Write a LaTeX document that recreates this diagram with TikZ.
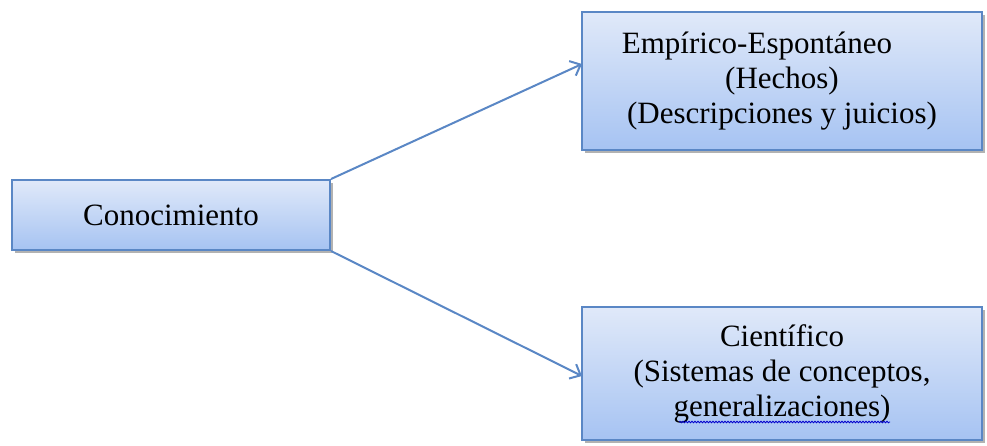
\documentclass[tikz,border=0pt]{standalone}
\usepackage{fontspec}
\setmainfont{Liberation Serif}
\usetikzlibrary{shadows,arrows.meta,decorations.pathmorphing}
\definecolor{bord}{HTML}{5A87C5}
\definecolor{topc}{HTML}{E0E9F9}
\definecolor{botc}{HTML}{A6C3F2}
\begin{document}
\begin{tikzpicture}[x=1pt,y=-1pt,
  box/.style={draw=bord, line width=2pt, top color=topc, bottom color=botc,
    drop shadow={shadow xshift=3pt,shadow yshift=-3pt,fill=black,opacity=0.3},
    font=\fontsize{31}{35}\selectfont, align=center, inner sep=0pt},
  conn/.style={draw=bord, line width=2pt, -{Straight Barb[length=9pt,width=16pt]}}]
\useasboundingbox (0,0) rectangle (987,445);
\node[box, minimum width=318pt, minimum height=70pt] (left) at (171,215) {Conocimiento};
\node[box, minimum width=400pt, minimum height=138pt] (top) at (782,81)
  {Empírico-Espontáneo\hspace*{50pt}\\(Hechos)\\(Descripciones y juicios)};
\node[box, minimum width=400pt, minimum height=133pt] (bot) at (782,373.5)
  {Científico\\(Sistemas de conceptos,\\generalizaciones)};
\coordinate (ta) at (582,64);
\coordinate (ba) at (582,376);
\draw[conn] (left.north east) -- (ta);
\draw[conn] (left.south east) -- (ba);
\draw[blue!80!black, line width=0.8pt, decorate, decoration={snake, amplitude=0.8pt, segment length=3pt}] (679,422) -- (890,422);
\end{tikzpicture}
\end{document}
